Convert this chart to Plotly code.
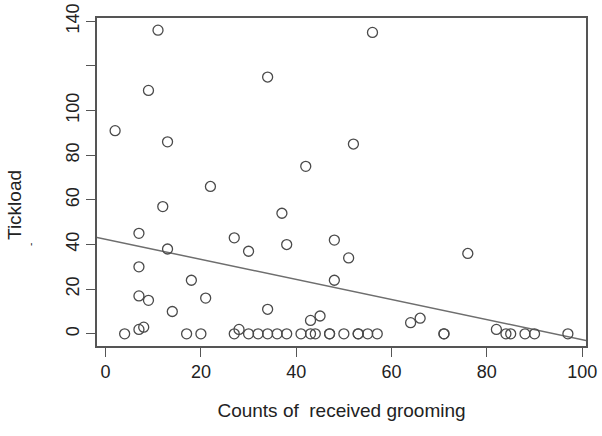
import numpy as np
import plotly.graph_objects as go

# counts of received grooming (x) and tickload (y)
grooming = [11, 2, 9, 13, 22, 34, 56, 52, 42,
            12, 7, 13, 7, 18, 7, 9, 21, 14,
            4, 7, 8, 17, 20,
            27, 30, 37, 38, 34,
            27, 28, 30, 32, 34, 36, 38, 41,
            48, 51, 48, 43, 45,
            43, 44, 47, 47, 50, 53, 53, 55, 57,
            76, 64, 66, 82,
            71, 71, 84, 85, 88, 90, 97]
tickload = [136, 91, 109, 86, 66, 115, 135, 85, 75,
            57, 45, 38, 30, 24, 17, 15, 16, 10,
            0, 2, 3, 0, 0,
            43, 37, 54, 40, 11,
            0, 2, 0, 0, 0, 0, 0, 0,
            42, 34, 24, 6, 8,
            0, 0, 0, 0, 0, 0, 0, 0, 0,
            36, 5, 7, 2,
            0, 0, 0, 0, 0, 0, 0]

y_ticks = [0, 20, 40, 60, 80, 100, 120, 140]
y_tick_labels = ['0', '20', '40', '60', '80', '100', '', '140']
x_ticks = [0, 20, 40, 60, 80, 100]

x_range = [-1.8, 100.8]
y_range = [-5.44, 141.44]

# least squares line, like abline(lm(y ~ x))
slope, intercept = np.polyfit(grooming, tickload, 1)
line_x = np.array(x_range)
line_y = intercept + slope * line_x

W, H = 602, 436
l, r, t, b = 97, 16, 18, 90
pw, ph = W - l - r, H - t - b


def px_to_paper(px, py):
    return (px - l) / pw, (H - b - py) / ph


fig = go.Figure()

fig.add_trace(go.Scatter(
    x=line_x, y=line_y,
    mode='lines',
    line=dict(color='#6e6e6e', width=1.5),
    hoverinfo='skip'
))

fig.add_trace(go.Scatter(
    x=grooming, y=tickload,
    mode='markers',
    marker=dict(symbol='circle-open', size=10, color='#4a4a4a',
                line=dict(width=1.3, color='#4a4a4a'))
))

axis_common = dict(
    showline=True, linecolor='#555555', linewidth=1.5, mirror=True,
    showgrid=False, zeroline=False, automargin=False,
    ticks='outside', ticklen=9, tickwidth=1.3, tickcolor='#555555',
    ticklabeloverflow='allow',
    tickfont=dict(family='Liberation Sans, Arial', size=18, color='#222222'),
)

fig.update_layout(
    width=W, height=H,
    margin=dict(l=l, r=r, t=t, b=b),
    paper_bgcolor='white', plot_bgcolor='white',
    showlegend=False,
    xaxis=dict(range=x_range, tickvals=x_ticks, **axis_common),
    yaxis=dict(range=y_range, tickvals=y_ticks, ticktext=y_tick_labels,
               tickangle=-90, **axis_common),
    font=dict(family='Liberation Sans, Arial', color='#222222'),
)

fig.update_xaxes(title=dict(text='Counts of  received grooming',
                            font=dict(size=19), standoff=22))

# y title sits a little below the centre of the panel in the original
ax, ay = px_to_paper(15, 205)
fig.add_annotation(x=ax, y=ay, xref='paper', yref='paper',
                   xanchor='center', yanchor='middle',
                   text='Tickload', showarrow=False, textangle=-90,
                   font=dict(size=19, color='#222222'))
ax, ay = px_to_paper(30, 245)
fig.add_annotation(x=ax, y=ay, xref='paper', yref='paper',
                   xanchor='center', yanchor='middle',
                   text='-', showarrow=False, textangle=-90,
                   font=dict(size=10, color='#222222'))

# drop the default body margin so the figure sits at the page corner
fig.write_html("out.html", config={'displayModeBar': False},
               post_script="document.body.style.margin='0';")
